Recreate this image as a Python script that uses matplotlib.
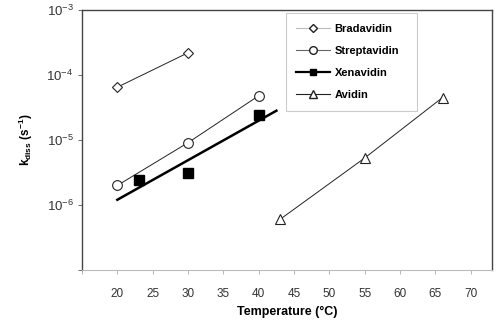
import numpy as np
import matplotlib
matplotlib.use("Agg")
import matplotlib.pyplot as plt
from matplotlib.lines import Line2D

plt.rcParams['font.family'] = ['Liberation Sans', 'DejaVu Sans']
plt.rcParams['mathtext.default'] = 'regular'

# dissociation rate constants (s^-1) vs temperature (C)
brad_t = [20, 30]
brad_k = [6.5e-5, 2.2e-4]

strep_t = [20, 30, 40]
strep_k = [2.0e-6, 9.1e-6, 4.8e-5]

xen_t = [23, 30, 40]
xen_k = [2.4e-6, 3.1e-6, 2.4e-5]
xen_fit_range = [20, 42.5]

avid_t = [43, 55, 66]
avid_k = [6.0e-7, 5.3e-6, 4.5e-5]

x_ticks = [15, 20, 25, 30, 35, 40, 45, 50, 55, 60, 65, 70]
y_ticks = [1e-7, 1e-6, 1e-5, 1e-4, 1e-3]

fig = plt.figure(figsize=(5.0, 3.23), dpi=100)
ax = fig.add_axes([0.164, 0.164, 0.820, 0.805])

thin = 0.7
ax.plot(brad_t, brad_k, '-', color='#222222', lw=thin, marker='D', ms=5,
        mfc='white', mec='#222222', mew=0.8)
ax.plot(strep_t, strep_k, '-', color='#222222', lw=thin, marker='o', ms=7,
        mfc='white', mec='#222222', mew=0.8)
ax.plot(avid_t, avid_k, '-', color='#222222', lw=thin, marker='^', ms=7,
        mfc='white', mec='#222222', mew=0.8)

# Xenavidin: points plus log-linear fit
ax.plot(xen_t, xen_k, 's', color='black', ms=7, mfc='black', mec='black')
slope, icept = np.polyfit(xen_t, np.log10(xen_k), 1)
fx = np.array(xen_fit_range)
ax.plot(fx, 10 ** (slope * fx + icept), '-', color='black', lw=1.8)

ax.set_yscale('log')
ax.set_xlim(15, 73)
ax.set_ylim(1e-7, 1e-3)
ax.set_xticks(x_ticks)
ax.set_xticklabels([''] + [str(t) for t in x_ticks[1:]])
ax.set_yticks(y_ticks)
ax.set_yticklabels([''] + ['10$^{%d}$' % int(np.log10(v)) for v in y_ticks[1:]])
ax.yaxis.set_minor_locator(matplotlib.ticker.NullLocator())

ax.tick_params(axis='x', direction='out', length=3, width=0.6, colors='#aaaaaa',
               labelcolor='#333333', labelsize=8.5, pad=10)
ax.tick_params(axis='y', direction='out', length=3, width=0.6, colors='#555555',
               labelcolor='#333333', labelsize=9.5, pad=3)

for s in ['left', 'top', 'right']:
    ax.spines[s].set_color('#444444')
    ax.spines[s].set_linewidth(1.0)
ax.spines['bottom'].set_color('#bbbbbb')
ax.spines['bottom'].set_linewidth(0.8)

ax.set_xlabel('Temperature (°C)', fontsize=9, fontweight='bold', labelpad=4)
ax.set_ylabel('k$_{diss}$ (s$^{-1}$)', fontsize=8.5, fontweight='bold', labelpad=8)

handles = [
    Line2D([], [], color='#bbbbbb', lw=0.8, marker='D', ms=4, mfc='white', mec='#222222'),
    Line2D([], [], color='#666666', lw=0.8, marker='o', ms=5.5, mfc='white', mec='#222222'),
    Line2D([], [], color='black', lw=1.6, marker='s', ms=5, mfc='black', mec='black'),
    Line2D([], [], color='#222222', lw=0.8, marker='^', ms=6, mfc='white', mec='#222222'),
]
labels = ['Bradavidin', 'Streptavidin', 'Xenavidin', 'Avidin']
prop = {'weight': 'bold', 'size': 8}
leg = ax.legend(handles, labels, loc='upper left',
                bbox_to_anchor=(0.497, 0.619, 0.32, 0.369), mode='expand',
                prop=prop, frameon=True, fancybox=False, framealpha=1,
                edgecolor='#cccccc', handlelength=3.0, handletextpad=0.45,
                labelspacing=1.1, borderpad=0.95, borderaxespad=0)
leg.get_frame().set_linewidth(0.8)

fig.savefig('out.png', dpi=100)
